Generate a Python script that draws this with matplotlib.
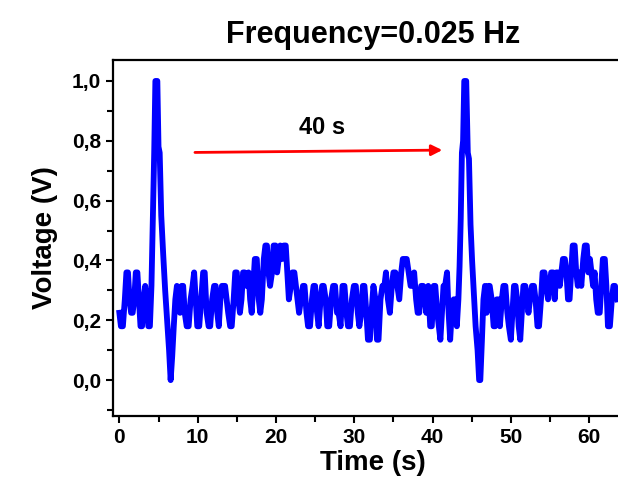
import matplotlib
matplotlib.use('Agg')
from matplotlib import pyplot as plt

plt.rcParams['font.family'] = ['Liberation Sans', 'DejaVu Sans']
plt.rcParams['font.weight'] = 'bold'

# signal (time in s, voltage in V)
time = [0.0, 0.2, 0.45, 0.7, 0.9, 1.1, 1.3, 1.5, 1.7, 1.9, 2.1, 2.3, 2.5, 2.7, 2.9,
        3.1, 3.3, 3.5, 3.7, 3.9, 4.1, 4.3, 4.45, 4.6, 4.85, 5.0, 5.15, 5.35, 5.6,
        5.85, 6.1, 6.35, 6.55, 6.75, 6.95, 7.15, 7.35, 7.55, 7.75, 7.95, 8.15,
        8.35, 8.6, 8.85, 9.1, 9.35, 9.55, 9.75, 9.95, 10.2, 10.45, 10.7, 10.9,
        11.15, 11.4, 11.6, 11.85, 12.1, 12.3, 12.5, 12.7, 12.9, 13.1, 13.3, 13.5,
        13.7, 13.9, 14.15, 14.35, 14.6, 14.8, 15.0, 15.2, 15.4, 15.6, 15.8, 16.0,
        16.25, 16.5, 16.7, 16.9, 17.1, 17.3, 17.55, 17.8, 18.0, 18.2, 18.45,
        18.65, 18.85, 19.05, 19.25, 19.5, 19.7, 19.95, 20.15, 20.35, 20.55, 20.8,
        21.0, 21.25, 21.45, 21.65, 21.9, 22.1, 22.35, 22.55, 22.75, 22.95, 23.2,
        23.45, 23.65, 23.9, 24.1, 24.35, 24.6, 24.8, 25.0, 25.25, 25.45, 25.7,
        25.9, 26.1, 26.35, 26.55, 26.8, 27.05, 27.3, 27.55, 27.8, 28.0, 28.25,
        28.5, 28.75, 29.0, 29.2, 29.45, 29.7, 29.95, 30.2, 30.45, 30.65, 30.9,
        31.1, 31.3, 31.55, 31.75, 32.0, 32.2, 32.45, 32.7, 32.9, 33.1, 33.35,
        33.6, 33.85, 34.05, 34.3, 34.55, 34.8, 35.0, 35.25, 35.5, 35.75, 36.0,
        36.2, 36.45, 36.7, 36.95, 37.2, 37.4, 37.65, 37.9, 38.1, 38.3, 38.55,
        38.8, 39.0, 39.2, 39.45, 39.7, 39.9, 40.15, 40.35, 40.6, 40.8, 41.0,
        41.2, 41.4, 41.6, 41.85, 42.05, 42.25, 42.45, 42.7, 42.9, 43.1, 43.3,
        43.45, 43.6, 43.75, 43.9, 44.05, 44.3, 44.5, 44.65, 44.85, 45.05, 45.25,
        45.5, 45.75, 45.95, 46.1, 46.3, 46.5, 46.7, 46.9, 47.1, 47.3, 47.55,
        47.8, 48.0, 48.2, 48.4, 48.6, 48.85, 49.05, 49.3, 49.55, 49.75, 50.0,
        50.2, 50.4, 50.6, 50.8, 51.0, 51.2, 51.4, 51.6, 51.85, 52.05, 52.25,
        52.45, 52.7, 52.95, 53.15, 53.4, 53.6, 53.85, 54.05, 54.3, 54.5, 54.75,
        54.95, 55.15, 55.4, 55.6, 55.8, 56.0, 56.25, 56.45, 56.65, 56.9, 57.1,
        57.3, 57.5, 57.7, 57.9, 58.15, 58.35, 58.55, 58.8, 59.0, 59.25, 59.45,
        59.7, 59.9, 60.1, 60.3, 60.5, 60.7, 60.9, 61.1, 61.35, 61.55, 61.75,
        62.0, 62.2, 62.4, 62.65, 62.9, 63.1, 63.3, 63.6]
voltage = [0.225, 0.18, 0.18, 0.27, 0.36, 0.36, 0.27, 0.225, 0.225, 0.27, 0.36, 0.36,
           0.27, 0.18, 0.18, 0.27, 0.315, 0.27, 0.18, 0.18, 0.315, 0.56, 0.76, 1.0,
           1.0, 0.78, 0.76, 0.55, 0.42, 0.30, 0.20, 0.10, 0.0, 0.08, 0.18, 0.27,
           0.315, 0.27, 0.225, 0.315, 0.315, 0.225, 0.18, 0.18, 0.27, 0.315, 0.36,
           0.27, 0.18, 0.18, 0.27, 0.36, 0.36, 0.225, 0.18, 0.18, 0.27, 0.315,
           0.315, 0.225, 0.18, 0.27, 0.315, 0.315, 0.315, 0.27, 0.225, 0.18, 0.18,
           0.27, 0.36, 0.36, 0.27, 0.225, 0.27, 0.36, 0.36, 0.315, 0.36, 0.27,
           0.225, 0.315, 0.405, 0.405, 0.27, 0.225, 0.27, 0.405, 0.45, 0.45, 0.36,
           0.315, 0.36, 0.45, 0.45, 0.36, 0.405, 0.45, 0.405, 0.45, 0.45, 0.36,
           0.27, 0.315, 0.36, 0.36, 0.315, 0.27, 0.225, 0.27, 0.315, 0.315, 0.225,
           0.18, 0.18, 0.27, 0.315, 0.315, 0.225, 0.18, 0.27, 0.315, 0.315, 0.27,
           0.18, 0.18, 0.27, 0.315, 0.315, 0.225, 0.225, 0.18, 0.315, 0.315,
           0.225, 0.18, 0.18, 0.27, 0.315, 0.315, 0.225, 0.18, 0.225, 0.315,
           0.315, 0.225, 0.135, 0.135, 0.225, 0.315, 0.27, 0.135, 0.135, 0.27,
           0.315, 0.315, 0.36, 0.27, 0.225, 0.315, 0.36, 0.36, 0.315, 0.27, 0.36,
           0.405, 0.405, 0.405, 0.36, 0.315, 0.315, 0.36, 0.27, 0.225, 0.225,
           0.315, 0.315, 0.27, 0.225, 0.315, 0.18, 0.18, 0.315, 0.315, 0.225,
           0.18, 0.135, 0.225, 0.315, 0.315, 0.36, 0.225, 0.135, 0.225, 0.27,
           0.27, 0.18, 0.27, 0.38, 0.54, 0.76, 0.80, 1.0, 1.0, 0.76, 0.74, 0.52,
           0.40, 0.30, 0.18, 0.10, 0.0, 0.0, 0.13, 0.27, 0.315, 0.225, 0.315,
           0.315, 0.27, 0.18, 0.18, 0.27, 0.27, 0.18, 0.27, 0.315, 0.315, 0.225,
           0.18, 0.135, 0.225, 0.315, 0.315, 0.27, 0.18, 0.135, 0.225, 0.315,
           0.315, 0.27, 0.225, 0.27, 0.315, 0.315, 0.27, 0.18, 0.18, 0.27, 0.36,
           0.36, 0.315, 0.27, 0.315, 0.36, 0.36, 0.27, 0.36, 0.36, 0.315, 0.36,
           0.405, 0.405, 0.36, 0.27, 0.27, 0.36, 0.45, 0.45, 0.36, 0.315, 0.36,
           0.315, 0.405, 0.45, 0.45, 0.36, 0.405, 0.36, 0.315, 0.36, 0.27, 0.225,
           0.225, 0.315, 0.405, 0.405, 0.315, 0.18, 0.18, 0.27, 0.315, 0.315, 0.27]

yticks = [0.0, 0.2, 0.4, 0.6, 0.8, 1.0]
ytick_labels = ['0,0', '0,2', '0,4', '0,6', '0,8', '1,0']
xticks = [0, 10, 20, 30, 40, 50, 60]

fig = plt.figure(figsize=(6.18, 4.86), dpi=100)
ax = fig.add_axes([0.183, 0.144, 0.84, 0.7325])

ax.plot(time, voltage, color='#0000ff', lw=4.2, solid_joinstyle='round')

ax.set_xlim(-0.8, 65.5)
ax.set_ylim(-0.12, 1.07)

ax.set_xticks(xticks)
ax.set_xticks([5, 15, 25, 35, 45, 55, 65], minor=True)
ax.set_yticks(yticks)
ax.set_yticklabels(ytick_labels)
ax.set_yticks([-0.1, 0.1, 0.3, 0.5, 0.7, 0.9], minor=True)
ax.tick_params(which='both', direction='out', width=1.5, labelsize=15)
ax.tick_params(which='major', length=5)
ax.tick_params(which='minor', length=4)
for lab in ax.get_xticklabels() + ax.get_yticklabels():
    lab.set_fontweight('bold')

for s in ax.spines.values():
    s.set_linewidth(1.6)

ax.set_xlabel('Time (s)', fontsize=20, fontweight='bold', labelpad=2)
ax.set_ylabel('Voltage (V)', fontsize=20, fontweight='bold', labelpad=10)
ax.set_title('Frequency=0.025 Hz', fontsize=22, fontweight='bold', pad=12)

ax.annotate('', xy=(41.6, 0.769), xytext=(9.3, 0.761),
            arrowprops=dict(arrowstyle='-|>', color='red', lw=2, mutation_scale=16))
ax.text(25.9, 0.844, '40 s', fontsize=17, fontweight='bold', ha='center', va='center')

fig.savefig('out.png', dpi=100)
